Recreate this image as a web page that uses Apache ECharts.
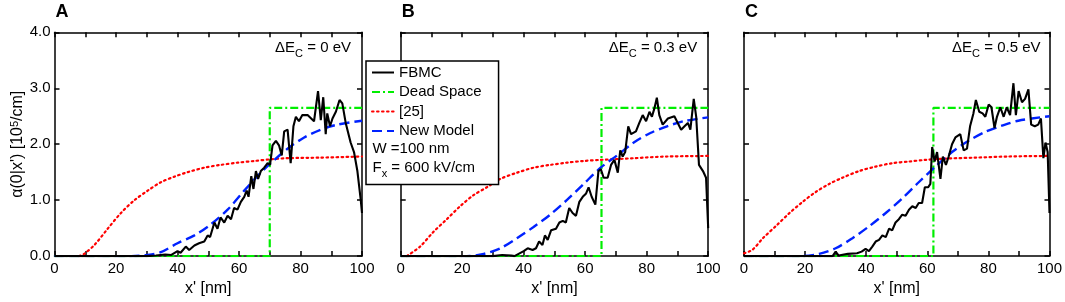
<!DOCTYPE html>
<html>
<head>
<meta charset="utf-8">
<script src="https://cdn.jsdelivr.net/npm/echarts@6/dist/echarts.min.js"></script>
<style>
  html, body { margin: 0; background: #fff; }
  #chart { width: 1065px; height: 302px; }
</style>
</head>
<body>
<div id="chart"></div>
<script>
// values, [x' (nm), alpha (10^5/cm)]
const fbmcA = [[0,0],[30,0],[33,0.01],[36,0.03],[38,0.02],[40,0.09],[41,0.06],[42.7,0.17],[43.8,0.11],[45.5,0.19],[47,0.23],[48.7,0.26],[49.8,0.37],[50.6,0.34],[52,0.6],[53,0.49],[54,0.69],[55.2,0.6],[56.3,0.72],[57.4,0.66],[58.4,0.86],[59.5,0.83],[60.6,0.97],[61.7,1.06],[62.5,1.17],[63.1,1.06],[64,1.43],[64.7,1.2],[65.5,1.52],[66.2,1.38],[67.1,1.52],[68.2,1.58],[69.3,1.66],[70.1,1.63],[70.9,1.98],[72,2.06],[73,1.98],[73.9,1.8],[74.7,2.23],[75.8,2.26],[76.8,1.66],[77.7,2.32],[78.5,2.49],[79.5,2.41],[80.6,2.52],[82.3,2.52],[84.4,2.41],[85.7,2.95],[86.6,2.43],[87.4,2.84],[88.2,2.18],[88.7,2.55],[89.6,2.32],[90.4,2.46],[91.5,2.58],[92.7,2.79],[93.6,2.73],[94.7,2.38],[96.3,2.03],[97.4,1.86],[98.5,1.52],[99.6,1.0],[100,0.77]];
const fbmcB = [[0,0],[30,0],[33,0.02],[36,0.01],[37,0],[40,0.09],[41.3,0.14],[42.9,0.11],[44,0.14],[45,0.26],[46.1,0.2],[46.9,0.37],[47.8,0.29],[48.9,0.46],[50.5,0.49],[51.6,0.6],[52.7,0.63],[53.7,0.6],[54.8,0.86],[55.9,0.77],[57,0.72],[58.1,0.97],[59.2,1.06],[60.3,1.12],[61.1,1.23],[62.1,1.06],[63.3,0.92],[64.3,1.52],[65.1,1.55],[66,1.4],[67.3,1.4],[68.4,1.63],[69.5,1.72],[70.6,1.49],[71.4,1.89],[72.2,1.78],[73,1.86],[74,2.32],[74.9,2.18],[76.5,2.23],[77.6,2.38],[78.7,2.52],[79.8,2.41],[80.9,2.58],[81.7,2.49],[82.5,2.64],[83.3,2.83],[84.1,2.52],[85.2,2.35],[86.9,2.46],[89,2.5],[90.1,2.38],[91.2,2.26],[92.3,2.32],[93.4,2.38],[94.2,2.26],[95.3,2.81],[96.1,2.49],[97,1.63],[98.3,1.52],[99.3,1.4],[100,0.5]];
const fbmcC = [[0,0],[29,0],[30,0.08],[31,0.01],[34,0.04],[37,0.05],[38.5,0.08],[39.8,0.13],[40.9,0.09],[42,0.17],[43.1,0.26],[44.2,0.29],[45.3,0.37],[46.4,0.34],[47.5,0.49],[48.5,0.46],[49.6,0.6],[50.7,0.66],[51.8,0.74],[52.9,0.72],[54,0.83],[55.1,0.89],[56.2,0.86],[57.2,0.95],[58.3,0.95],[59.2,1.23],[60.3,1.23],[61,1.29],[61.6,1.95],[62.4,1.69],[63.2,1.86],[64.3,1.38],[65.1,1.78],[66.1,1.63],[67,1.78],[68.1,2.0],[69.2,2.12],[70.8,2.18],[71.9,1.89],[73,1.92],[74,2.32],[75.1,2.55],[75.9,2.79],[77,2.58],[78.1,2.55],[79,2.49],[80.1,2.71],[81,2.66],[82,2.29],[82.8,2.49],[83.9,2.66],[85,2.49],[86,2.66],[87.1,2.52],[88.2,3.09],[89,2.52],[89.9,2.95],[91,2.75],[92,2.81],[93.1,2.98],[94,2.35],[95.2,2.32],[96.3,2.35],[97.2,2.46],[98,1.75],[98.7,2.03],[99.4,1.86],[100,0.77]];

const deadA = [[0,0],[70,0],[70,2.65],[100,2.65]];
const deadB = [[0,0],[65.3,0],[65.3,2.65],[100,2.65]];
const deadC = [[0,0],[62,0],[62,2.65],[100,2.65]];

const refA = [[8,0],[9.4,0.03],[13,0.2],[17.3,0.49],[21.6,0.77],[26,1.0],[30.3,1.17],[34.6,1.32],[39,1.42],[43.3,1.5],[48.7,1.58],[54,1.63],[59.5,1.67],[65,1.7],[70.3,1.73],[75.8,1.75],[86.6,1.76],[100,1.78]];
const refB = [[2,0],[6.3,0.17],[10.6,0.43],[15,0.66],[19.3,0.89],[23.7,1.09],[28,1.23],[32.4,1.38],[37.8,1.49],[43.2,1.58],[48.6,1.63],[54,1.67],[59.5,1.7],[65,1.72],[75.8,1.75],[86.6,1.78],[100,1.79]];
const refC = [[0,0.05],[2.7,0.11],[6.2,0.32],[10.5,0.54],[14.9,0.77],[19.2,0.97],[23.6,1.15],[27.9,1.29],[32.2,1.4],[37.7,1.52],[43.1,1.6],[48.5,1.66],[54,1.69],[59.4,1.72],[64.8,1.74],[75.7,1.76],[86.5,1.78],[99,1.79]];

const modelA = [[0,0],[25,0],[30,0.02],[34.6,0.07],[40,0.23],[45.5,0.37],[50.9,0.57],[56.3,0.83],[61.7,1.17],[66,1.43],[70.3,1.66],[75.8,1.92],[81.2,2.12],[86.6,2.26],[92,2.35],[100,2.42]];
const modelB = [[0,0],[21.5,0],[27,0.04],[32.4,0.14],[37.8,0.32],[43.2,0.52],[48.6,0.74],[54,1.0],[59.5,1.29],[65,1.58],[70.4,1.8],[75.8,2.03],[81.2,2.2],[86.6,2.32],[92,2.41],[100,2.48]];
const modelC = [[0,0],[19,0],[24.6,0.04],[30,0.14],[35.5,0.32],[40.9,0.53],[46.4,0.77],[51.8,1.03],[57.2,1.32],[62.7,1.6],[68.1,1.86],[73.5,2.06],[78.9,2.22],[84.4,2.33],[89.8,2.42],[100,2.5]];

const panelLetters = ["A", "B", "C"];
const deltaEc = ["0", "0.3", "0.5"];
const seriesNames = ["FBMC", "Dead Space", "[25]", "New Model"];
const extraLegend = ["W =100 nm", "600 kV/cm"];

const FONT = "Liberation Sans, Arial, sans-serif";
const gridLefts = [54.5, 400.7, 744];
const GRID_TOP = 32.3, GRID_H = 232.7, GRID_W = 307.5;

const panelData = [
  { fbmc: fbmcA, dead: deadA, ref: refA, model: modelA },
  { fbmc: fbmcB, dead: deadB, ref: refB, model: modelB },
  { fbmc: fbmcC, dead: deadC, ref: refC, model: modelC },
];

const chart = echarts.init(document.getElementById("chart"));

const grid = [], xAxis = [], yAxis = [], series = [], graphic = [];
const tickStyle = { color: "#000", width: 1.5 };
const axisLine = { show: true, onZero: false, lineStyle: { color: "#000", width: 1.5 } };

panelData.forEach((p, i) => {
  grid.push({ left: gridLefts[i], top: GRID_TOP, width: GRID_W, height: GRID_H });
  const xi = i * 2, yi = i * 2;
  xAxis.push({
    type: "value", gridIndex: i, position: "bottom", min: 0, max: 100, interval: 20,
    axisLine,
    axisTick: { inside: true, length: 5, lineStyle: tickStyle },
    minorTick: { show: true, splitNumber: 2, length: 5, lineStyle: tickStyle },
    splitLine: { show: false },
    axisLabel: { color: "#000", fontSize: 15, fontFamily: FONT, margin: 5 },
    name: "x' [nm]", nameLocation: "middle", nameGap: 15,
    nameTextStyle: { color: "#000", fontSize: 16, fontFamily: FONT, verticalAlign: "top" },
  });
  xAxis.push({
    type: "value", gridIndex: i, position: "top", min: 0, max: 100, interval: 20,
    axisLine,
    axisTick: { inside: true, length: 5, lineStyle: tickStyle },
    minorTick: { show: true, splitNumber: 2, length: 5, lineStyle: tickStyle },
    splitLine: { show: false },
    axisLabel: { show: false },
  });
  const left = {
    type: "value", gridIndex: i, position: "left", min: 0, max: 4, interval: 1,
    axisLine,
    axisTick: { inside: true, length: 5, lineStyle: tickStyle },
    splitLine: { show: false },
    axisLabel: {
      show: i === 0, color: "#000", fontSize: 15, fontFamily: FONT, margin: 4,
      formatter: (v) => v.toFixed(1),
    },
  };
  if (i === 0) {
    Object.assign(left, {
      name: "α(0|x') [10{sup|5}/cm]", nameLocation: "middle", nameGap: 24, nameRotate: 90,
      nameTextStyle: {
        color: "#000", fontSize: 16, fontFamily: FONT,
        rich: { sup: { fontSize: 11, fontFamily: FONT, color: "#000", verticalAlign: "top" } },
      },
    });
  }
  yAxis.push(left);
  yAxis.push({
    type: "value", gridIndex: i, position: "right", min: 0, max: 4, interval: 1,
    axisLine,
    axisTick: { inside: true, length: 5, lineStyle: tickStyle },
    splitLine: { show: false },
    axisLabel: { show: false },
  });

  const base = { type: "line", xAxisIndex: xi, yAxisIndex: yi, symbol: "none", animation: false };
  series.push(
    { ...base, name: seriesNames[2], data: p.ref, smooth: 0.3, z: 3,
      lineStyle: { color: "#ff0000", width: 2.2, type: [1.6, 3.4], cap: "round" }, itemStyle: { color: "#ff0000" } },
    { ...base, name: seriesNames[3], data: p.model, smooth: 0.3, z: 4,
      lineStyle: { color: "#0022ff", width: 2.4, type: [10, 5] }, itemStyle: { color: "#0022ff" } },
    { ...base, name: seriesNames[1], data: p.dead, z: 2,
      lineStyle: { color: "#00ee00", width: 2.2, type: [8, 3, 2, 3] }, itemStyle: { color: "#00ee00" } },
    { ...base, name: seriesNames[0], data: p.fbmc, z: 5,
      lineStyle: { color: "#000", width: 2.1 }, itemStyle: { color: "#000" } }
  );

  graphic.push({
    type: "text", left: gridLefts[i] + 1, top: 3, z: 100,
    style: { text: panelLetters[i], font: "bold 18px " + FONT, fill: "#000" },
  });
  graphic.push({
    type: "text", z: 100,
    x: gridLefts[i] + GRID_W - 11, y: 48,
    style: {
      text: "ΔE{sub|C} = " + deltaEc[i] + " eV", align: "right", verticalAlign: "middle",
      font: "15px " + FONT, fill: "#000",
      rich: {
        sub: { fontSize: 11, fontFamily: FONT, fill: "#000", padding: [11, 0, 0, 0], verticalAlign: "bottom" },
      },
    },
  });
});

// the two extra text rows inside the legend box
graphic.push({
  type: "text", x: 372.5, y: 149, z: 100,
  style: { text: extraLegend[0], verticalAlign: "middle", font: "15px " + FONT, fill: "#000" },
});
graphic.push({
  type: "text", x: 372.5, y: 168, z: 100,
  style: {
    text: "F{sub|x} = " + extraLegend[1], verticalAlign: "middle", font: "15px " + FONT, fill: "#000",
    rich: { sub: { fontSize: 11, fontFamily: FONT, fill: "#000", padding: [11, 0, 0, 0], verticalAlign: "bottom" } },
  },
});

chart.setOption({
  animation: false,
  backgroundColor: "#fff",
  grid, xAxis, yAxis, series, graphic,
  legend: {
    data: seriesNames,
    orient: "vertical", left: 366, top: 61,
    itemWidth: 22, itemHeight: 14, itemGap: 4.5,
    padding: [4, 17, 46, 5],
    backgroundColor: "#fff", borderColor: "#000", borderWidth: 1.5, borderRadius: 0,
    itemStyle: { opacity: 0 },
    textStyle: { color: "#000", fontSize: 15, fontFamily: FONT },
    selectedMode: false, z: 50,
  },
});
</script>
</body>
</html>
